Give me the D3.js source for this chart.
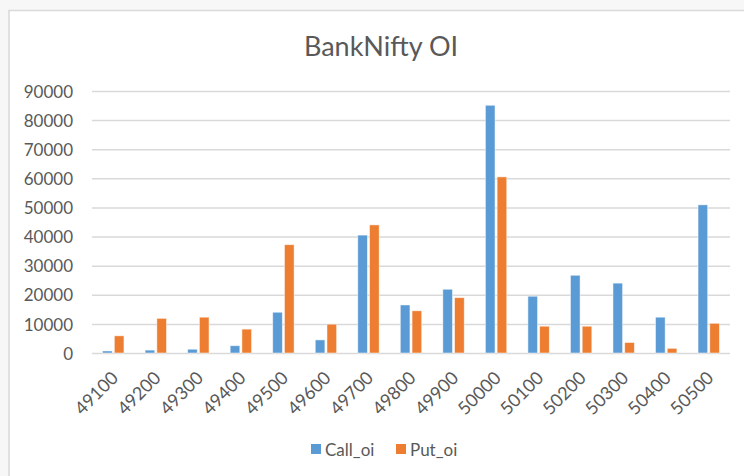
<!DOCTYPE html>
<html>
<head>
<meta charset="utf-8">
<script src="https://cdn.jsdelivr.net/npm/d3@7"></script>
<style>
html,body{margin:0;padding:0;background:#f7f7f7;}
svg{display:block;}
</style>
</head>
<body>
<svg id="chart" width="744" height="476"></svg>
<script>
const strikes = ["49100","49200","49300","49400","49500","49600","49700","49800","49900","50000","50100","50200","50300","50400","50500"];
const callOi = [700, 1000, 1300, 2500, 14000, 4500, 40500, 16500, 21900, 85100, 19500, 26700, 24000, 12300, 50900];
const putOi  = [5900, 11900, 12300, 8200, 37200, 9900, 44000, 14500, 19000, 60500, 9200, 9200, 3600, 1600, 10200];
const yTicks = [0,10000,20000,30000,40000,50000,60000,70000,80000,90000];
const seriesNames = ["Call_oi","Put_oi"];
const colors = ["#5b9bd5","#ed7d31"];

const svg = d3.select("#chart");
const font = "Lato, 'Open Sans', sans-serif";
const txt = "#595959";

// chart area box
svg.append("rect").attr("x",9).attr("y",10.5).attr("width",760).attr("height",480)
  .attr("fill","#fff").attr("stroke","#d9d9d9").attr("stroke-width",1.5);

const m = {left:92, right:730, top:91, bottom:353};
const x = d3.scaleBand().domain(strikes).range([m.left,m.right]).paddingInner(0).paddingOuter(0);
const y = d3.scaleLinear().domain([0,90000]).range([m.bottom,m.top]);

// title
svg.append("text").attr("x",381).attr("y",56).attr("text-anchor","middle")
  .attr("font-family",font).attr("font-size",27).attr("fill",txt).text("BankNifty OI");

// gridlines
const yAxis = d3.axisLeft(y).tickValues(yTicks).tickSize(-(m.right-m.left)).tickFormat(d3.format("d")).tickPadding(19);
const gy = svg.append("g").attr("transform",`translate(${m.left},0)`).call(yAxis);
gy.select(".domain").remove();
gy.selectAll(".tick line").attr("stroke","#d9d9d9").attr("stroke-width",1.5);
gy.selectAll(".tick text").attr("font-family",font).attr("font-size",17).attr("fill",txt).attr("dy","0.36em");

// bars
const inner = d3.scaleBand().domain(seriesNames).range([0,x.bandwidth()]).paddingInner(0.18).paddingOuter(0.9);
const data = strikes.map((s,i)=>({s, vals:[callOi[i], putOi[i]]}));
const groups = svg.append("g").selectAll("g").data(data).join("g")
  .attr("transform",d=>`translate(${x(d.s)},0)`);
groups.selectAll("rect").data(d=>d.vals.map((v,j)=>({v,j}))).join("rect")
  .attr("x",d=>inner(seriesNames[d.j]))
  .attr("width",inner.bandwidth())
  .attr("y",d=>y(d.v))
  .attr("height",d=>y(0)-y(d.v))
  .attr("fill",d=>colors[d.j])
  .attr("stroke","#ffffff").attr("stroke-opacity",0.6).attr("stroke-width",0.8);

// x axis labels
const xAxis = d3.axisBottom(x).tickSize(0).tickPadding(0);
const gx = svg.append("g").attr("transform",`translate(0,${m.bottom})`).call(xAxis);
gx.select(".domain").remove();
gx.selectAll(".tick text")
  .attr("font-family",font).attr("font-size",18).attr("fill",txt)
  .attr("text-anchor","end")
  .attr("transform","translate(6,26) rotate(-45)")
  .attr("dy","0").attr("y",0).attr("x",0);

// legend
const legend = svg.append("g");
const lx = [311, 396];
seriesNames.forEach((n,i)=>{
  legend.append("rect").attr("x",lx[i]).attr("y",444).attr("width",10).attr("height",10).attr("fill",colors[i]);
  legend.append("text").attr("x",lx[i]+14).attr("y",455.5).attr("font-family",font).attr("font-size",17)
    .attr("fill",txt).text(n);
});
</script>
</body>
</html>
